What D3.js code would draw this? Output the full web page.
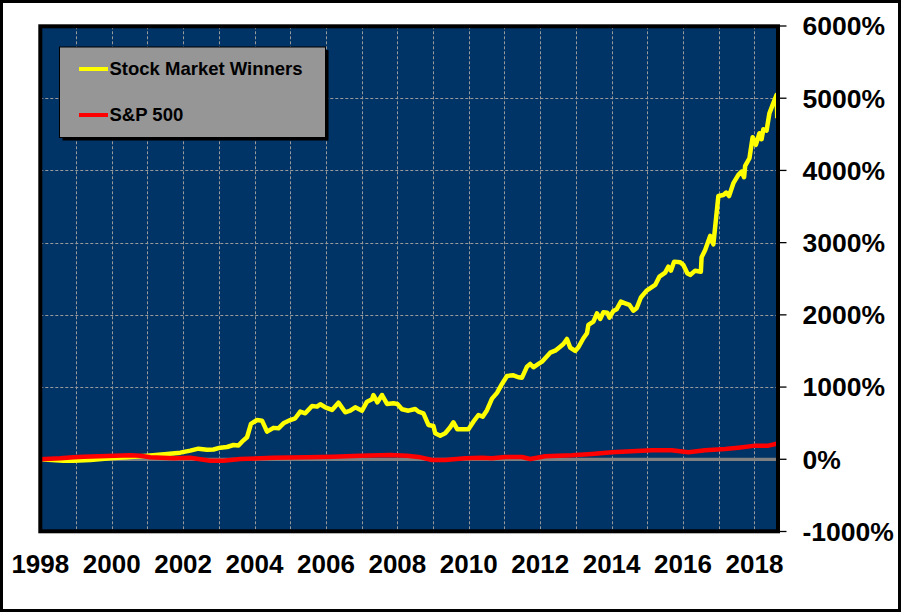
<!DOCTYPE html>
<html>
<head>
<meta charset="utf-8">
<script src="https://cdn.jsdelivr.net/npm/d3@7"></script>
<style>
    body { margin: 0; background: #fff; }
    svg { display: block; font-family: "Liberation Sans", Arial, sans-serif; }
</style>
</head>
<body>
<svg id="chart"></svg>
<script>
// values: decimal year, cumulative return in %
const winnersDates = [1998.00, 1998.65, 1998.93, 1999.40, 1999.96, 2000.43, 2000.99, 2001.55, 2001.92, 2002.20,
    2002.43, 2002.67, 2002.85, 2003.04, 2003.23, 2003.41, 2003.55, 2003.65, 2003.79, 2003.90,
    2004.07, 2004.21, 2004.35, 2004.53, 2004.67, 2004.81, 2005.00, 2005.14, 2005.28, 2005.42,
    2005.61, 2005.75, 2005.84, 2005.98, 2006.17, 2006.35, 2006.54, 2006.68, 2006.82, 2007.01,
    2007.15, 2007.29, 2007.33, 2007.44, 2007.57, 2007.71, 2007.89, 2008.00, 2008.13, 2008.31,
    2008.50, 2008.59, 2008.73, 2008.87, 2009.01, 2009.06, 2009.20, 2009.34, 2009.48, 2009.57,
    2009.68, 2009.99, 2010.13, 2010.27, 2010.39, 2010.51, 2010.65, 2010.79, 2010.93, 2011.07,
    2011.25, 2011.39, 2011.49, 2011.63, 2011.72, 2011.81, 2011.91, 2012.05, 2012.28, 2012.42,
    2012.56, 2012.65, 2012.75, 2012.84, 2012.98, 2013.07, 2013.21, 2013.31, 2013.35, 2013.49,
    2013.59, 2013.68, 2013.77, 2013.88, 2013.94, 2014.05, 2014.14, 2014.26, 2014.38, 2014.50,
    2014.61, 2014.70, 2014.82, 2014.98, 2015.22, 2015.34, 2015.50, 2015.59, 2015.66, 2015.75,
    2015.92, 2016.01, 2016.12, 2016.20, 2016.34, 2016.50, 2016.52, 2016.62, 2016.76, 2016.85,
    2016.99, 2017.13, 2017.21, 2017.29, 2017.41, 2017.55, 2017.64, 2017.71, 2017.74, 2017.86,
    2017.95, 2018.04, 2018.14, 2018.20, 2018.25, 2018.34, 2018.42, 2018.51, 2018.62, 2018.64];
const winnersPct = [0, -20, -20, -10, 15, 28, 50, 73, 92, 120,
    147, 133, 135, 161, 170, 198, 190, 244, 305, 489,
    544, 535, 383, 435, 429, 498, 544, 568, 660, 637,
    738, 729, 762, 720, 683, 784, 651, 673, 720, 673,
    798, 831, 890, 789, 890, 766, 775, 766, 692, 673,
    697, 660, 637, 475, 461, 360, 327, 360, 443, 512,
    415, 415, 521, 613, 590, 680, 840, 920, 1043, 1154,
    1163, 1136, 1130, 1283, 1320, 1274, 1306, 1352, 1476, 1504,
    1560, 1597, 1666, 1546, 1500, 1551, 1676, 1745, 1860, 1906,
    2022, 1943, 2036, 2030, 1961, 2054, 2077, 2183, 2160, 2137,
    2058, 2091, 2240, 2335, 2414, 2529, 2585, 2668, 2612, 2737,
    2728, 2691, 2576, 2553, 2612, 2598, 2798, 2899, 3093, 2977,
    3646, 3660, 3693, 3646, 3823, 3938, 3984, 3906, 4062, 4169,
    4460, 4353, 4515, 4432, 4571, 4551, 4792, 4907, 5046, 4723];

const spDates = [1998.00, 1998.56, 1998.93, 1999.21, 1999.87, 2000.52, 2000.80, 2001.08, 2001.73, 2002.20,
    2002.76, 2003.13, 2003.60, 2004.53, 2005.47, 2006.21, 2006.96, 2007.80, 2008.27, 2008.59,
    2008.97, 2009.34, 2009.90, 2010.37, 2010.65, 2011.02, 2011.49, 2011.72, 2012.14, 2012.89,
    2013.45, 2014.01, 2014.56, 2015.12, 2015.68, 2016.15, 2016.62, 2017.18, 2017.55, 2018.02,
    2018.39, 2018.62];
const spPct = [0, 14, 28, 36, 46, 55, 50, 28, 14, 20,
    -20, -20, 4, 22, 28, 36, 50, 60, 50, 33,
    -10, -10, 14, 22, 14, 32, 32, 4, 41, 55,
    73, 97, 110, 124, 124, 97, 124, 143, 161, 189,
    189, 216];

const seriesNames = ['Stock Market Winners', 'S&P 500'];
const seriesColors = ['#ffff00', '#ff0000'];
const yTicks = [-1000, 0, 1000, 2000, 3000, 4000, 5000, 6000];
const gridYears = [1999, 2000, 2001, 2002, 2003, 2004, 2005, 2006, 2007, 2008,
    2009, 2010, 2011, 2012, 2013, 2014, 2015, 2016, 2017, 2018];
const labelYears = [1998, 2000, 2002, 2004, 2006, 2008, 2010, 2012, 2014, 2016, 2018];

class ReturnChart {
    constructor() {
        this.width = 901;
        this.height = 612;
        this.box = { left: 40.3, right: 778, top: 26.3, bottom: 531.3 };
        this.scaleX = d3.scaleLinear()
            .domain([1998, 2018.66])
            .range([this.box.left, this.box.right]);
        this.scaleY = d3.scaleLinear()
            .domain([-1000, 6000])
            .range([531.5, 26]);
        this.drawPlot();
    }

    drawPlot() {
        let that = this;
        let b = this.box;
        let svg = d3.select('#chart')
            .attr('width', this.width)
            .attr('height', this.height);

        svg.append('rect')
            .attr('width', this.width).attr('height', this.height)
            .attr('fill', '#fff');

        // navy plot area
        svg.append('rect')
            .attr('x', b.left).attr('y', b.top)
            .attr('width', b.right - b.left).attr('height', b.bottom - b.top)
            .attr('fill', '#003366');

        let grid = svg.append('g')
            .attr('stroke', '#9a9a9a')
            .attr('stroke-width', 1)
            .attr('stroke-dasharray', '3,2');
        grid.selectAll('.vgrid')
            .data(gridYears)
            .join('line')
            .attr('class', 'vgrid')
            .attr('x1', d => Math.round(that.scaleX(d)) + 0.5)
            .attr('x2', d => Math.round(that.scaleX(d)) + 0.5)
            .attr('y1', b.top)
            .attr('y2', b.bottom);
        grid.selectAll('.hgrid')
            .data(yTicks.filter(d => d > 0 && d < 6000))
            .join('line')
            .attr('class', 'hgrid')
            .attr('x1', b.left)
            .attr('x2', b.right)
            .attr('y1', d => Math.round(that.scaleY(d)) + 0.5)
            .attr('y2', d => Math.round(that.scaleY(d)) + 0.5);

        // zero line
        svg.append('line')
            .attr('x1', b.left).attr('x2', b.right)
            .attr('y1', this.scaleY(0)).attr('y2', this.scaleY(0))
            .attr('stroke', '#808080')
            .attr('stroke-width', 3.3);

        let line = d3.line()
            .x(d => that.scaleX(d[0]))
            .y(d => that.scaleY(d[1]));

        svg.append('path')
            .datum(d3.zip(winnersDates, winnersPct))
            .attr('fill', 'none')
            .attr('stroke', seriesColors[0])
            .attr('stroke-width', 4.5)
            .attr('stroke-linejoin', 'round')
            .attr('d', line);
        svg.append('path')
            .datum(d3.zip(spDates, spPct))
            .attr('fill', 'none')
            .attr('stroke', seriesColors[1])
            .attr('stroke-width', 4.5)
            .attr('stroke-linejoin', 'round')
            .attr('d', line);

        // frame
        svg.append('rect')
            .attr('x', b.left).attr('y', b.top)
            .attr('width', b.right - b.left).attr('height', b.bottom - b.top)
            .attr('fill', 'none')
            .attr('stroke', '#000')
            .attr('stroke-width', 4);

        // right axis
        let yAxis = svg.append('g');
        yAxis.selectAll('line')
            .data(yTicks)
            .join('line')
            .attr('x1', b.right + 2)
            .attr('x2', 786.5)
            .attr('y1', d => that.scaleY(d))
            .attr('y2', d => that.scaleY(d))
            .attr('stroke', '#000')
            .attr('stroke-width', 1.3);
        yAxis.selectAll('text')
            .data(yTicks)
            .join('text')
            .attr('x', 802.5)
            .attr('y', d => that.scaleY(d) + 9.3)
            .attr('font-size', '26.5px')
            .attr('font-weight', 'bold')
            .text(d => d + '%');

        // bottom labels
        svg.append('g').selectAll('text')
            .data(labelYears)
            .join('text')
            .attr('x', d => that.scaleX(d))
            .attr('y', 573.3)
            .attr('text-anchor', 'middle')
            .attr('font-size', '26px')
            .attr('font-weight', 'bold')
            .text(d => d);

        // legend
        let legend = svg.append('g');
        legend.append('rect')
            .attr('x', 62.5).attr('y', 50)
            .attr('width', 266).attr('height', 90.5)
            .attr('fill', '#000');
        legend.append('rect')
            .attr('x', 59.5).attr('y', 47)
            .attr('width', 266).attr('height', 90.5)
            .attr('fill', '#969696')
            .attr('stroke', '#000')
            .attr('stroke-width', 1);
        let items = legend.selectAll('.item')
            .data(seriesNames)
            .join('g')
            .attr('class', 'item')
            .attr('transform', (d, i) => 'translate(0,' + (69 + i * 46) + ')');
        items.append('line')
            .attr('x1', 79).attr('x2', 108)
            .attr('stroke', (d, i) => seriesColors[i])
            .attr('stroke-width', 4);
        items.append('text')
            .attr('x', 109.5)
            .attr('y', 6.3)
            .attr('font-size', '18.5px')
            .attr('font-weight', 'bold')
            .text(d => d);

        // outer border
        svg.append('rect')
            .attr('x', 1.5).attr('y', 1.5)
            .attr('width', this.width - 3).attr('height', this.height - 3)
            .attr('fill', 'none')
            .attr('stroke', '#000')
            .attr('stroke-width', 3);
    }
}

new ReturnChart();
</script>
</body>
</html>
